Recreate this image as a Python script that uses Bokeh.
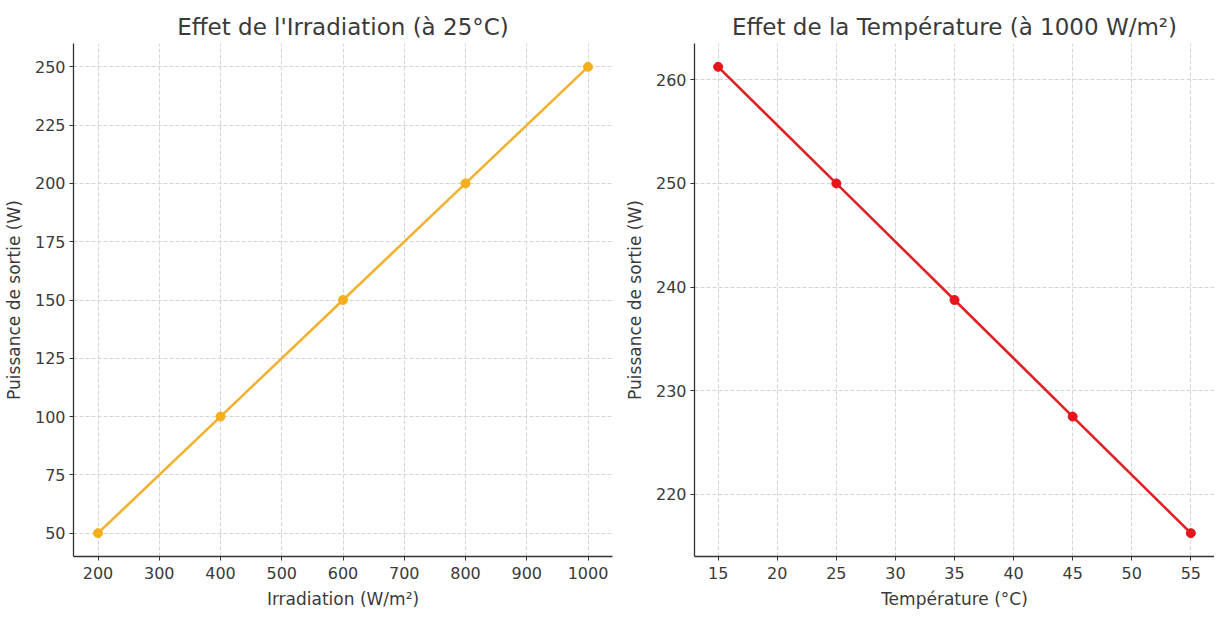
from bokeh.plotting import figure
from bokeh.layouts import row
from bokeh.models import FixedTicker, Range1d
from bokeh.embed import file_html
from bokeh.resources import INLINE

# Data
irradiation = [200, 400, 600, 800, 1000]
power_irr = [50, 100, 150, 200, 250]
temperature = [15, 25, 35, 45, 55]
power_temp = [261.25, 250.0, 238.75, 227.5, 216.25]

irr_xticks = [200, 300, 400, 500, 600, 700, 800, 900, 1000]
irr_yticks = [50, 75, 100, 125, 150, 175, 200, 225, 250]
temp_xticks = [15, 20, 25, 30, 35, 40, 45, 50, 55]
temp_yticks = [220, 230, 240, 250, 260]

FONT = "DejaVu Sans"
TXT = "#3a3a3a"


def style(p, xticks, yticks):
    p.title.text_font = FONT
    p.title.text_font_size = "23px"
    p.title.text_font_style = "normal"
    p.title.text_color = TXT
    p.title.align = "center"
    p.title.standoff = 8
    for ax in (p.xaxis[0], p.yaxis[0]):
        ax.axis_label_text_font = FONT
        ax.axis_label_text_font_size = "17px"
        ax.axis_label_text_font_style = "normal"
        ax.axis_label_text_color = TXT
        ax.major_label_text_font = FONT
        ax.major_label_text_font_size = "16px"
        ax.major_label_text_color = TXT
        ax.axis_line_color = "#333333"
        ax.axis_line_width = 1.3
        ax.major_tick_line_color = "#333333"
        ax.major_tick_out = 4
        ax.major_tick_in = 0
        ax.minor_tick_line_color = None
    p.xaxis[0].ticker = FixedTicker(ticks=xticks)
    p.yaxis[0].ticker = FixedTicker(ticks=yticks)
    p.xaxis[0].major_label_standoff = 6
    p.yaxis[0].major_label_standoff = 4
    p.xaxis[0].axis_label_standoff = 7
    p.yaxis[0].axis_label_standoff = 8
    for g in (p.xgrid[0], p.ygrid[0]):
        g.grid_line_color = "#d4d4d4"
        g.grid_line_dash = "4 2"
        g.grid_line_width = 1
    p.outline_line_color = None
    p.background_fill_color = "white"
    p.border_fill_color = "white"


p1 = figure(width=621, height=611, output_backend="svg", toolbar_location=None,
            title="Effet de l'Irradiation (à 25°C)",
            x_axis_label="Irradiation (W/m²)", y_axis_label="Puissance de sortie (W)",
            x_range=Range1d(160, 1040), y_range=Range1d(40, 260),
            min_border_left=68, min_border_right=9, min_border_top=43, min_border_bottom=55)
style(p1, irr_xticks, irr_yticks)
p1.line(irradiation, power_irr, line_color="#F2B130", line_width=2.6)
p1.scatter(irradiation, power_irr, size=9, fill_color="#F5AE1C", line_color="#F5AE1C")

p2 = figure(width=593, height=611, output_backend="svg", toolbar_location=None,
            title="Effet de la Température (à 1000 W/m²)",
            x_axis_label="Température (°C)", y_axis_label="Puissance de sortie (W)",
            x_range=Range1d(13, 57), y_range=Range1d(214, 263.5),
            min_border_left=62, min_border_right=0, min_border_top=43, min_border_bottom=55)
style(p2, temp_xticks, temp_yticks)
p2.line(temperature, power_temp, line_color="#DE2226", line_width=2.6)
p2.scatter(temperature, power_temp, size=9, fill_color="#E8141C", line_color="#E8141C")

layout = row(p1, p2)
open("out.html", "w").write(file_html(layout, INLINE))
